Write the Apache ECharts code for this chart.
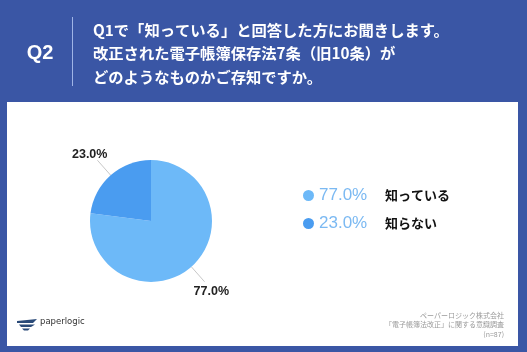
<!DOCTYPE html>
<html><head><meta charset="utf-8">
<script src="https://cdn.jsdelivr.net/npm/echarts@6/dist/echarts.min.js"></script>
<style>html,body{margin:0;padding:0;background:#3A56A5}#c{width:527px;height:352px}</style>
</head><body><div id="c"></div>
<script>
const categories = ['知っている', '知らない'];
const values = [77.0, 23.0];
const colors = ['#6DB9F8', '#4A9CF0'];
const titleLines = ['Q1で「知っている」と回答した方にお聞きします。', '改正された電子帳簿保存法7条（旧10条）が', 'どのようなものかご存知ですか。'];
const footerLines = ['ペーパーロジック株式会社', '「電子帳簿法改正」に関する意識調査', '(n=87)'];
const JP = '"Noto Sans CJK JP", "Noto Sans", sans-serif';
const chart = echarts.init(document.getElementById('c'));
const data = categories.map((n, i) => ({ name: n, value: values[i], itemStyle: { color: colors[i] } }));
chart.setOption({
  backgroundColor: '#3A56A5',
  graphic: [
    { type: 'rect', shape: { x: 7, y: 102, width: 511, height: 244 }, style: { fill: '#ffffff' }, z: 0 },
    { type: 'text', style: { x: 40, y: 53, text: 'Q2', fill: '#fff', font: 'bold 20px "Liberation Sans", Arial, sans-serif', textAlign: 'center', textVerticalAlign: 'middle' } },
    { type: 'line', shape: { x1: 72.5, y1: 17, x2: 72.5, y2: 86 }, style: { stroke: '#9fb4e6', lineWidth: 1 } },
    ...titleLines.map((t, i) => ({ type: 'text', style: { x: 93, y: 30 + i * 23.5, text: t, fill: '#fff', font: 'bold 15.3px ' + JP, textVerticalAlign: 'middle' } })),
    ...footerLines.map((t, i) => ({ type: 'text', style: { x: 504, y: 315 + i * 9.7, text: t, fill: '#9a9a9a', font: '7px ' + JP, textAlign: 'right', textVerticalAlign: 'middle' } })),
    { type: 'polygon', shape: { points: [[17, 321], [37, 319], [33, 323], [17, 323]] }, style: { fill: '#2a4a78' } },
    { type: 'polygon', shape: { points: [[19, 324.5], [35, 324.5], [31, 327], [21, 327]] }, style: { fill: '#2a4a78' } },
    { type: 'polygon', shape: { points: [[22, 328.5], [30, 328.5], [28, 330.5], [24, 330.5]] }, style: { fill: '#2a4a78' } },
    { type: 'text', style: { x: 40, y: 322, text: 'paperlogic', fill: '#333', font: '8.5px "DejaVu Sans", sans-serif', textVerticalAlign: 'middle' } }
  ],
  legend: {
    orient: 'vertical', left: 298, top: 182, itemGap: 11,
    icon: 'circle', itemWidth: 11, itemHeight: 11,
    selectedMode: false,
    data: categories,
    formatter: function (name) {
      const i = categories.indexOf(name);
      return '{p|' + values[i].toFixed(1) + '%}{n|' + name + '}';
    },
    textStyle: {
      rich: {
        p: { fontSize: 17, color: '#7BB9F2', fontFamily: '"Liberation Sans", Arial, sans-serif', width: 66, height: 18 },
        n: { fontSize: 13, fontWeight: 'bold', color: '#111', fontFamily: JP, height: 18 }
      }
    }
  },
  series: [{
    type: 'pie', center: [151, 221], radius: [0, 61], startAngle: 90, clockwise: true,
    data: data, silent: true,
    label: {
      show: true, position: 'outside', color: '#222', fontSize: 12.5, fontWeight: 'bold',
      fontFamily: '"Liberation Sans", Arial, sans-serif',
      formatter: p => p.value.toFixed(1) + '%'
    },
    labelLine: { show: true, length: 20, length2: 0, lineStyle: { color: '#c8c8c8', width: 1 } },
    labelLayout: function (p) {
      return p.dataIndex === 1 ? { dx: 15, dy: -6 } : { dx: -16, dy: 10 };
    },
    itemStyle: { borderWidth: 0 }
  }]
});
</script></body></html>
